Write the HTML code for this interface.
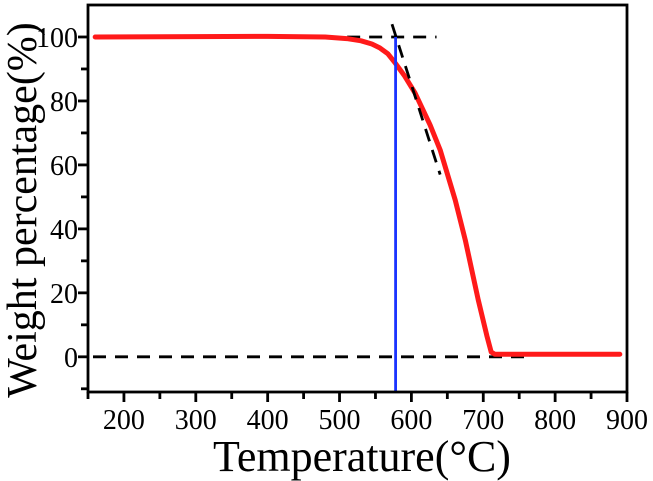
<!DOCTYPE html>
<html><head><meta charset="utf-8"><style>
html,body{margin:0;padding:0;background:#fff;}
svg{display:block;font-family:"Liberation Serif",serif;}
</style></head><body>
<svg id="chart" width="653" height="481" viewBox="0 0 653 481"></svg>
<script>
const xTicks=[200,300,400,500,600,700,800,900];
const yTicks=[0,20,40,60,80,100];
const tempValues=[160,300,400,480,510,530,545,556,567,577,590,605,626,640,661,675,693,705,711,716,750,820,890];
const weightValues=[100,100.1,100.2,100,99.5,98.8,97.8,96.6,94.8,92,88,82.5,72.5,64.7,49,36.5,17.8,6.6,1.5,0.8,0.8,0.8,0.8];
const tangentX=[573,640];
const tangentY=[104,57];
const onsetTemp=578;
const L=88,R=627,T=5,B=392,xmin=150,xmax=900,ymin=-11,ymax=110;
const sx=v=>L+(v-xmin)/(xmax-xmin)*(R-L);
const sy=v=>B-(v-ymin)/(ymax-ymin)*(B-T);
const svg=document.getElementById('chart');
const NS='http://www.w3.org/2000/svg';
function mk(tag,attrs,parent){const e=document.createElementNS(NS,tag);for(const k in attrs)e.setAttribute(k,attrs[k]);(parent||svg).appendChild(e);return e;}
let e=mk('line',{x1:sx(480),x2:sx(635),y1:sy(100),y2:sy(100),stroke:'#000','stroke-width':2.8,'stroke-dasharray':'13,9'});


e=mk('line',{x1:L+5,x2:sx(760),y1:sy(0),y2:sy(0),stroke:'#000','stroke-width':2.8,'stroke-dasharray':'13,9'});


e=mk('polyline',{points:tempValues.map((t,i)=>sx(t)+','+sy(weightValues[i])).join(' '),fill:'none',stroke:'#ff1a1a','stroke-width':5,'stroke-linejoin':'round','stroke-linecap':'round'});


e=mk('line',{x1:sx(tangentX[0]),x2:sx(tangentX[1]),y1:sy(tangentY[0]),y2:sy(tangentY[1]),stroke:'#000','stroke-width':2.8,'stroke-dasharray':'13,9'});


e=mk('line',{x1:sx(onsetTemp),x2:sx(onsetTemp),y1:sy(100),y2:B,stroke:'#1a33ff','stroke-width':2.8});


e=mk('rect',{x:L,y:T,width:R-L,height:B-T,fill:'none',stroke:'#000','stroke-width':2.8});


xTicks.forEach(v=>{
 const t=mk('line',{x1:sx(v),x2:sx(v),y1:B,y2:B+10,stroke:'#000','stroke-width':2.8});
 
 
 const m=mk('line',{x1:sx(v-50),x2:sx(v-50),y1:B,y2:B+7,stroke:'#000','stroke-width':2.8});
 
 
 const l=mk('text',{x:sx(v),y:B+37,'text-anchor':'middle','font-size':28});
 l.textContent=v;
 
 
});
yTicks.forEach(v=>{
 const t=mk('line',{x1:L-10,x2:L,y1:sy(v),y2:sy(v),stroke:'#000','stroke-width':2.8});
 
 
 const m=mk('line',{x1:L-7,x2:L,y1:sy(v-10),y2:sy(v-10),stroke:'#000','stroke-width':2.8});
 
 
 const l=mk('text',{x:L-10,y:sy(v)+10,'text-anchor':'end','font-size':28});
 l.textContent=v;
 
 
});
e=mk('text',{x:362,y:471,'text-anchor':'middle','font-size':44});
e.textContent='Temperature(°C)';


e=mk('text',{x:0,y:0,'text-anchor':'middle','font-size':42,transform:'translate(36,210) rotate(-90)'});
e.textContent='Weight percentage(%)';


</script>
</body></html>
